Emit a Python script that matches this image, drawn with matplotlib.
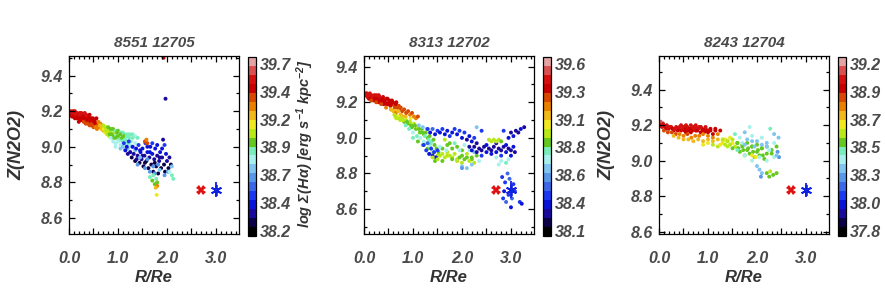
import matplotlib
matplotlib.use("Agg")
import matplotlib.pyplot as plt
import numpy as np
from matplotlib.colors import ListedColormap, Normalize
from matplotlib.ticker import MultipleLocator, FormatStrFormatter
import matplotlib.cm as cm

plt.rcParams['font.family'] = ['Liberation Sans', 'DejaVu Sans']
plt.rcParams['mathtext.fontset'] = 'custom'
plt.rcParams['mathtext.rm'] = 'Liberation Sans:bold:italic'
plt.rcParams['mathtext.it'] = 'Liberation Sans:bold:italic'
plt.rcParams['mathtext.bf'] = 'Liberation Sans:bold:italic'

# ---------------- data ----------------
titles = ["8551 12705", "8313 12702", "8243 12704"]

# panel 1 : 8551 12705  (r/Re, Z, log Sigma(Ha))
p1_r = [0.00,0.03,0.05,0.07,0.10,0.12,0.14,0.16,0.18,0.20,0.22,0.24,0.26,0.28,0.30,0.32,0.34,0.36,0.38,0.40,
        0.42,0.44,0.46,0.48,0.50,0.52,0.54,0.56,0.58,0.08,0.20,0.26,0.33,0.12,0.02,
        0.01,0.04,0.06,0.09,0.11,0.13,0.15,0.17,0.19,0.21,0.23,0.25,0.27,0.29,0.31,0.35,0.37,0.39,0.41,0.43,
        0.45,0.47,0.49,0.51,0.53,
        0.30,0.34,0.38,0.42,0.46,0.50,0.54,0.58,0.22,0.16,
        0.60,0.62,0.64,0.66,0.68,0.57,0.70,0.72,0.74,
        0.76,0.78,0.80,0.82,0.85,0.88,0.90,0.92,
        0.63,0.67,0.71,0.75,0.79,0.83,0.87,0.91,0.96,1.01,1.06,1.11,1.16,1.21,1.25,
        0.70,0.75,0.80,0.85,0.90,0.95,1.00,1.05,1.10,1.15,1.20,1.25,1.30,1.35,1.40,0.95,1.05,1.15,1.25,1.35,
        0.95,0.98,1.00,1.03,1.05,1.08,1.10,1.12,1.15,1.18,1.20,1.23,1.26,1.30,
        0.85,0.90,0.95,1.00,1.05,1.10,1.15,1.20,1.28,1.35,
        1.12,1.15,1.18,1.20,1.22,1.25,1.28,1.30,1.32,1.35,1.37,1.40,1.42,1.44,1.46,1.48,1.50,1.52,1.54,1.56,
        1.58,1.60,1.62,1.64,1.66,1.68,1.70,1.72,1.74,1.76,1.78,1.80,1.82,1.84,1.86,1.88,1.90,1.92,1.94,1.96,
        1.98,2.00,2.03,2.05,2.08,1.38,1.45,1.55,1.65,1.75,1.85,1.70,1.60,1.50,1.80,1.90,1.95,
        1.40,1.55,1.65,1.75,1.85,1.95,2.02,2.10,1.60,1.72,1.82,1.45,
        1.65,1.70,1.72,1.75,1.78,1.80,2.10,2.13,2.05,
        1.79,1.80,1.77,
        1.55,1.60,1.58,
        1.97,1.93]
p1_z = [9.20,9.19,9.20,9.18,9.19,9.20,9.17,9.19,9.18,9.16,9.19,9.17,9.18,9.15,9.17,9.19,9.16,9.14,9.17,9.15,
        9.18,9.13,9.16,9.14,9.12,9.15,9.13,9.16,9.12,9.17,9.14,9.15,9.14,9.16,9.18,
        9.19,9.18,9.17,9.20,9.17,9.18,9.19,9.16,9.17,9.18,9.15,9.19,9.16,9.17,9.15,9.18,9.15,9.16,9.14,9.16,
        9.15,9.13,9.16,9.14,9.14,
        9.14,9.13,9.13,9.12,9.12,9.11,9.11,9.11,9.15,9.16,
        9.14,9.11,9.13,9.10,9.12,9.10,9.09,9.11,9.08,
        9.10,9.07,9.09,9.06,9.08,9.10,9.06,9.08,
        9.12,9.11,9.10,9.09,9.08,9.07,9.07,9.05,9.06,9.05,9.04,9.03,9.03,9.03,9.01,
        9.12,9.11,9.11,9.10,9.10,9.09,9.09,9.08,9.08,9.07,9.07,9.07,9.07,9.06,9.05,9.00,8.99,8.98,8.97,8.98,
        9.05,9.08,9.06,9.04,9.07,9.05,9.03,9.06,9.04,9.06,9.02,9.05,9.03,9.05,
        9.05,9.03,9.02,9.03,9.01,9.00,9.01,8.99,9.00,9.02,
        9.02,8.98,9.00,8.96,9.03,8.97,8.94,9.00,8.96,8.92,8.99,8.95,9.01,8.91,8.97,8.93,8.99,8.89,8.95,9.02,
        8.92,8.97,8.88,8.94,9.00,8.90,8.96,8.86,8.93,8.99,8.89,8.95,8.85,8.92,8.97,8.88,8.94,9.04,8.90,8.86,
        8.96,8.92,8.88,8.94,8.90,8.93,8.98,8.91,8.97,8.91,8.94,9.02,9.00,8.95,9.01,8.99,9.01,
        8.90,8.88,8.86,8.85,8.87,8.84,8.86,8.89,8.93,8.89,8.90,8.94,
        8.83,8.81,8.84,8.79,8.82,8.80,8.84,8.82,8.86,
        8.73,8.78,8.77,
        9.03,9.02,9.04,
        9.27,9.50]
p1_c = [39.58,39.55,39.57,39.52,39.55,39.58,39.50,39.53,39.55,39.48,39.55,39.50,39.52,39.46,39.50,39.55,39.48,39.45,39.52,39.46,
        39.50,39.44,39.48,39.45,39.42,39.46,39.44,39.47,39.40,39.50,39.47,39.46,39.45,39.50,39.55,
        39.55,39.52,39.50,39.58,39.50,39.53,39.56,39.48,39.50,39.53,39.46,39.55,39.48,39.50,39.46,39.52,39.45,39.48,39.44,39.48,
        39.46,39.42,39.47,39.44,39.43,
        39.42,39.40,39.40,39.38,39.36,39.36,39.34,39.32,39.44,39.46,
        39.33,39.28,39.30,39.25,39.27,39.32,39.20,39.22,39.18,
        39.12,39.08,39.10,39.05,39.07,39.10,39.02,39.05,
        39.25,39.20,39.12,39.08,39.04,39.00,38.98,38.95,38.93,38.90,38.88,38.86,38.84,38.83,38.80,
        39.10,39.05,39.00,38.98,38.96,38.94,38.95,38.92,38.93,38.90,38.92,38.88,38.90,38.86,38.88,38.80,38.78,38.76,38.75,38.74,
        38.98,39.00,38.96,38.94,38.97,38.95,38.92,38.95,38.93,38.94,38.91,38.93,38.92,38.94,
        38.84,38.82,38.80,38.82,38.79,38.78,38.80,38.77,38.78,38.80,
        38.50,38.40,38.46,38.34,38.52,38.38,38.30,38.44,38.36,38.28,38.42,38.34,38.48,38.26,38.40,38.32,38.46,38.27,38.36,38.50,
        38.30,38.42,38.25,38.34,38.46,38.28,38.40,38.26,38.32,38.44,38.27,38.38,38.25,38.32,38.44,38.28,38.34,38.32,38.30,38.26,
        38.40,38.32,38.28,38.38,38.30,38.32,38.44,38.30,38.40,38.30,38.36,38.48,38.44,38.38,38.46,38.42,38.48,
        38.68,38.65,38.70,38.66,38.72,38.64,38.70,38.75,38.68,38.66,38.70,38.72,
        38.92,38.95,38.90,38.97,38.93,38.95,38.88,38.92,38.85,
        39.18,39.28,39.22,
        39.35,39.38,39.32,
        38.32,39.50]

# panel 2 : 8313 12702
p2_r = [0.00,0.03,0.06,0.09,0.12,0.15,0.18,0.21,0.24,0.27,0.30,0.33,0.36,0.39,0.42,0.45,0.48,0.51,0.54,0.57,
        0.60,0.63,0.66,0.69,0.72,0.10,0.20,0.30,0.40,
        0.01,0.04,0.07,0.11,0.14,0.17,0.22,0.25,0.28,0.32,0.35,0.38,0.43,0.46,0.49,0.52,0.56,0.59,0.62,0.65,
        0.68,0.71,
        0.15,0.25,0.35,0.45,0.55,0.65,0.75,0.85,0.95,
        0.75,0.78,0.82,0.86,0.90,0.94,0.98,1.02,1.06,1.10,
        0.55,0.60,0.65,0.70,0.75,0.80,
        0.62,0.66,0.70,0.74,0.78,0.82,0.86,0.90,0.94,0.98,1.02,1.06,1.10,1.14,1.18,1.22,1.26,1.30,1.34,1.38,1.42,
        0.64,0.72,0.80,0.88,0.96,1.04,1.12,1.20,1.24,1.32,1.36,1.44,1.48,1.52,
        1.00,1.10,1.20,1.30,1.40,1.50,1.60,1.70,1.80,1.90,2.00,2.10,2.20,
        0.85,0.92,1.00,1.08,1.15,1.22,1.28,1.35,1.40,1.12,1.20,1.28,
        1.22,1.27,1.30,1.33,1.37,1.40,1.43,1.47,1.50,
        1.40,1.45,1.50,1.55,1.60,1.65,1.70,1.75,1.80,1.85,1.90,1.95,2.00,2.05,2.10,2.15,2.20,2.25,2.30,
        1.60,1.70,1.80,1.90,2.00,1.75,1.65,
        1.55,1.68,1.85,1.95,2.05,2.15,2.25,2.00,2.10,2.20,2.35,
        1.30,1.35,1.40,1.45,1.50,1.55,1.60,1.65,1.70,1.75,1.80,1.85,1.90,1.95,2.00,2.05,2.10,2.15,2.20,2.25,2.30,
        2.15,2.20,2.25,2.30,2.35,2.40,2.45,2.50,2.55,2.60,2.65,2.70,2.75,2.80,2.85,2.90,2.95,3.00,3.05,3.08,
        2.40,2.60,2.80,3.00,2.50,2.70,2.90,
        2.55,2.60,2.65,2.70,2.75,2.80,
        2.70,2.80,2.90,2.95,2.75,
        2.95,3.00,3.05,3.10,3.15,3.20,3.27,2.85,
        2.82,2.88,2.93,2.86,2.95,2.90,3.02,3.05,3.08,2.97,3.00,3.18,3.22,2.84,
        2.40,2.30,2.00]
p2_z = [9.25,9.24,9.25,9.23,9.25,9.24,9.22,9.24,9.23,9.21,9.24,9.22,9.20,9.23,9.21,9.19,9.22,9.20,9.18,9.21,
        9.19,9.17,9.20,9.18,9.16,9.22,9.21,9.20,9.19,
        9.24,9.25,9.23,9.24,9.22,9.23,9.22,9.24,9.22,9.23,9.21,9.22,9.20,9.22,9.19,9.21,9.19,9.20,9.18,9.19,
        9.17,9.18,
        9.21,9.20,9.19,9.17,9.16,9.15,9.13,9.12,9.11,
        9.17,9.15,9.16,9.14,9.15,9.13,9.14,9.12,9.11,9.12,
        9.16,9.15,9.14,9.15,9.13,9.12,
        9.13,9.11,9.12,9.10,9.11,9.09,9.10,9.08,9.09,9.06,9.08,9.05,9.06,9.03,9.05,9.02,9.03,9.00,9.01,8.98,8.99,
        9.12,9.11,9.10,9.09,9.07,9.07,9.05,9.03,9.01,8.99,8.97,8.96,8.94,8.92,
        9.00,8.98,8.96,8.94,8.92,8.90,8.91,8.90,8.89,8.88,8.90,8.89,8.88,
        9.07,9.05,9.03,9.01,9.00,8.98,8.97,8.95,8.93,9.07,9.06,9.05,
        8.96,8.93,8.97,8.91,8.94,8.90,8.92,8.89,8.93,
        8.89,8.87,8.88,8.90,8.87,8.89,8.92,8.90,8.88,8.91,8.87,8.89,8.86,8.88,8.91,8.87,8.89,8.86,8.90,
        8.94,8.96,8.94,8.95,8.93,8.97,8.99,
        8.95,8.93,8.97,8.93,8.96,8.93,8.92,8.84,8.83,8.85,8.87,
        9.05,9.03,9.05,9.02,9.04,9.03,9.05,9.02,9.04,9.01,9.03,9.05,9.02,9.04,9.00,9.03,8.99,9.01,8.98,9.00,8.97,
        8.95,8.93,8.95,8.92,8.94,8.93,8.95,8.92,8.94,8.93,8.95,8.92,8.94,8.93,8.95,8.92,8.94,8.93,8.95,8.92,
        8.90,8.91,8.90,8.90,8.96,8.97,8.96,
        8.99,8.98,8.99,8.98,8.99,8.98,
        8.89,8.87,8.86,8.88,8.85,
        9.00,9.03,9.01,9.04,9.03,9.05,9.06,9.04,
        8.78,8.75,8.80,8.70,8.68,8.64,8.66,8.74,8.70,8.77,8.61,8.64,8.63,8.66,
        9.04,9.06,8.83]
p2_c = [39.48,39.45,39.47,39.42,39.46,39.44,39.40,39.45,39.42,39.38,39.44,39.40,39.37,39.42,39.38,39.35,39.40,39.37,39.33,39.38,
        39.35,39.32,39.36,39.33,39.30,39.40,39.38,39.36,39.35,
        39.46,39.48,39.43,39.45,39.41,39.43,39.40,39.44,39.40,39.42,39.38,39.40,39.36,39.40,39.34,39.38,39.34,39.36,39.32,39.34,
        39.30,39.32,
        39.30,39.28,39.25,39.20,39.18,39.15,39.12,39.10,39.08,
        39.30,39.26,39.32,39.25,39.30,39.24,39.28,39.22,39.20,39.25,
        39.15,39.12,39.18,39.10,39.14,39.12,
        39.00,38.96,39.02,38.94,38.98,38.92,38.96,38.90,38.94,38.92,38.95,38.90,38.93,38.88,38.92,38.86,38.90,38.85,38.88,38.84,38.86,
        38.98,38.95,38.93,38.90,38.90,38.88,38.86,38.85,38.82,38.83,38.80,38.85,38.90,38.92,
        38.80,38.85,38.90,38.92,38.95,38.97,38.96,38.94,38.93,38.95,38.92,38.90,38.88,
        38.80,38.78,38.75,38.78,38.74,38.76,38.72,38.75,38.70,38.68,38.66,38.62,
        38.44,38.38,38.46,38.36,38.42,38.34,38.40,38.34,38.44,
        38.96,38.92,38.98,38.95,38.90,38.97,38.93,38.96,38.90,38.94,38.98,38.92,38.95,38.90,38.94,38.97,38.92,38.95,38.90,
        38.88,38.85,38.90,38.86,38.88,38.92,38.94,
        38.75,38.72,38.78,38.70,38.74,38.72,38.68,38.65,38.62,38.66,38.72,
        38.42,38.36,38.46,38.34,38.42,38.30,38.44,38.36,38.30,38.40,38.34,38.44,38.30,38.38,38.32,38.40,38.28,38.36,38.30,38.38,38.28,
        38.26,38.30,38.24,38.28,38.22,38.26,38.24,38.30,38.22,38.28,38.25,38.32,38.23,38.27,38.24,38.30,38.22,38.26,38.32,38.24,
        38.38,38.34,38.40,38.36,38.32,38.28,38.30,
        38.95,38.98,38.94,38.97,38.95,38.92,
        38.75,38.72,38.78,38.70,38.74,
        38.30,38.26,38.32,38.28,38.24,38.30,38.26,38.40,
        38.44,38.40,38.48,38.36,38.42,38.46,38.50,38.38,38.42,38.46,38.36,38.40,38.34,38.44,
        38.40,38.62,38.60]

# panel 3 : 8243 12704
p3_r = [0.00,0.04,0.08,0.12,0.16,0.20,0.25,0.30,0.35,0.40,0.45,0.50,0.55,0.60,0.65,0.70,0.75,0.80,0.85,0.90,
        0.95,1.00,1.05,1.10,1.15,0.55,0.65,0.75,0.85,0.03,
        0.02,0.06,0.10,0.14,0.18,0.22,0.28,0.32,0.38,0.42,0.48,0.52,0.58,0.62,0.68,0.72,0.78,0.82,0.88,0.92,
        0.98,1.02,
        0.45,0.55,0.65,0.75,0.85,0.95,1.05,1.15,1.25,
        0.10,0.18,0.26,0.34,0.42,0.50,0.58,0.66,0.74,0.82,0.90,1.00,1.10,1.20,
        0.30,0.40,0.50,0.60,0.70,0.80,0.90,1.00,1.10,1.20,1.30,
        0.90,1.00,1.10,1.20,1.30,1.40,1.50,1.60,1.35,1.45,
        1.25,1.35,1.45,1.55,1.62,1.72,1.82,1.92,2.02,2.12,
        1.30,1.40,1.50,1.60,1.70,1.80,1.90,2.00,2.10,2.20,2.30,
        1.40,1.50,1.60,1.70,1.80,1.90,2.00,2.10,2.20,1.65,1.75,1.85,1.95,2.05,2.15,2.30,2.40,
        1.60,1.75,1.90,2.05,2.20,2.35,
        1.55,1.65,1.75,1.85,1.80,1.90,2.00,2.10,2.20,2.27,2.35,2.44,1.70,1.95,2.25,2.35,2.00,2.05,2.10,2.08,
        1.75,1.90,2.10,2.42,2.45,2.40,2.20,
        2.20,2.27,2.33,2.40,2.25,
        1.90,1.97]
p3_z = [9.21,9.20,9.21,9.19,9.20,9.18,9.19,9.17,9.19,9.18,9.17,9.19,9.18,9.17,9.18,9.19,9.17,9.18,9.16,9.17,
        9.18,9.16,9.17,9.15,9.17,9.16,9.16,9.19,9.19,9.22,
        9.20,9.19,9.20,9.18,9.19,9.19,9.18,9.18,9.17,9.19,9.18,9.17,9.19,9.18,9.17,9.18,9.17,9.19,9.18,9.16,
        9.17,9.17,
        9.20,9.20,9.20,9.20,9.19,9.19,9.18,9.18,9.17,
        9.17,9.16,9.16,9.15,9.15,9.14,9.15,9.13,9.14,9.14,9.15,9.14,9.13,9.15,
        9.14,9.13,9.12,9.12,9.11,9.12,9.11,9.12,9.11,9.12,9.11,
        9.09,9.10,9.09,9.08,9.10,9.08,9.10,9.07,9.12,9.13,
        9.09,9.09,9.09,9.08,9.07,9.06,9.07,9.05,9.06,9.03,
        9.12,9.11,9.12,9.10,9.09,9.10,9.08,9.09,9.07,9.08,9.04,
        9.11,9.07,9.10,9.08,9.06,9.08,9.05,9.07,9.04,9.05,9.03,9.04,9.02,9.03,9.01,9.06,9.08,
        9.06,9.03,9.00,9.02,9.00,9.02,
        9.15,9.13,9.16,9.19,9.12,9.14,9.11,9.13,9.10,9.18,9.15,9.13,9.10,9.08,9.06,9.10,8.97,8.95,8.93,8.91,
        9.09,9.11,9.09,9.05,9.02,9.03,9.08,
        8.93,8.94,8.92,8.93,8.91,
        9.03,9.02]
p3_c = [39.10,39.06,39.08,39.04,39.07,39.02,39.05,39.00,39.06,39.03,39.00,39.05,39.02,38.99,39.03,39.06,39.00,39.03,38.97,39.00,
        39.02,38.96,39.00,38.95,38.98,38.97,38.96,39.05,39.04,39.10,
        39.06,39.04,39.07,39.02,39.05,39.04,39.02,39.03,39.00,39.05,39.03,39.00,39.05,39.02,39.00,39.03,39.00,39.04,39.02,38.97,
        38.99,38.98,
        39.08,39.08,39.06,39.08,39.05,39.04,39.02,39.00,38.96,
        38.92,38.90,38.88,38.90,38.86,38.85,38.88,38.84,38.86,38.85,38.87,38.84,38.82,38.86,
        38.78,38.76,38.75,38.78,38.74,38.77,38.75,38.76,38.73,38.74,38.72,
        38.68,38.66,38.64,38.65,38.67,38.63,38.66,38.62,38.68,38.66,
        38.66,38.62,38.60,38.58,38.56,38.55,38.54,38.55,38.53,38.54,
        38.60,38.58,38.62,38.57,38.55,38.53,38.55,38.52,38.50,38.50,38.52,
        38.58,38.55,38.57,38.54,38.56,38.53,38.55,38.52,38.54,38.56,38.52,38.55,38.53,38.56,38.54,38.57,38.55,
        38.44,38.40,38.38,38.42,38.40,38.38,
        38.44,38.36,38.30,38.40,38.32,38.42,38.28,38.36,38.32,38.44,38.34,38.28,38.40,38.33,38.36,38.42,38.33,38.30,38.28,38.27,
        38.30,38.28,38.30,38.26,38.25,38.28,38.30,
        38.56,38.58,38.55,38.57,38.54,
        38.72,38.70]

# summary points (red X, blue asterisk with error)
sum_red_r = [2.70, 2.70, 2.70]
sum_red_z = [8.76, 8.71, 8.835]
sum_blue_r = [3.00, 3.00, 3.00]
sum_blue_z = [8.76, 8.71, 8.835]
sum_blue_err = [0.04, 0.045, 0.037]

# colour ranges and colourbar labels
c_ranges = [(38.15, 39.75), (38.05, 39.65), (37.75, 39.25)]
cbar_labels = [["38.2", "38.4", "38.7", "38.9", "39.2", "39.4", "39.7"],
               ["38.1", "38.4", "38.6", "38.8", "39.1", "39.3", "39.6"],
               ["37.8", "38.0", "38.3", "38.5", "38.7", "38.9", "39.2"]]
y_ranges = [(8.51, 9.51), (8.46, 9.46), (8.587, 9.59)]
x_range = (0.0, 3.47)
xtick_labels = ["0.0", "1.0", "2.0", "3.0"]

# ---------------- style ----------------
cmap_colors = ["#000000", "#0c0048", "#1a0a9c", "#0a14d8", "#1c38f0", "#3c68e8", "#5898e8", "#80c4f0",
               "#a8f0ec", "#78eebc", "#64c820", "#b8e818", "#f0e820", "#f0b818", "#e88000", "#d84800",
               "#c80000", "#d41010", "#d85050", "#e4a4a4"]
cmap = ListedColormap(cmap_colors)

TXT = "#4a4a4a"
W, H = 885, 293
fig = plt.figure(figsize=(W / 100, H / 100), dpi=100)

ax_left = [69, 364, 659]
ax_w, ax_top, ax_bot = 170, 56, 234
cb_left = [248, 543, 838]
cb_w, cb_top, cb_bot = 8, 57, 236

panels = [(p1_r, p1_z, p1_c), (p2_r, p2_z, p2_c), (p3_r, p3_z, p3_c)]
fp = dict(family='Liberation Sans', weight='bold', style='italic')

for i in range(3):
    ax = fig.add_axes([ax_left[i] / W, (H - ax_bot) / H, ax_w / W, (ax_bot - ax_top) / H])
    r, z, c = panels[i]
    vmin, vmax = c_ranges[i]
    norm = Normalize(vmin, vmax)
    ax.scatter(r, z, c=c, cmap=cmap, norm=norm, s=8, marker='o', linewidths=0)
    ax.plot(sum_red_r[i], sum_red_z[i], marker='X', color='#e01010', ms=7, mew=0, linestyle='none')
    ax.errorbar(sum_blue_r[i], sum_blue_z[i], yerr=sum_blue_err[i], fmt='none', ecolor='#1020e0',
                elinewidth=1.3, capsize=0)
    ax.plot(sum_blue_r[i], sum_blue_z[i], marker=(6, 2, 0), color='#1020e0', ms=8, mew=1.3, linestyle='none')
    ax.set_xlim(*x_range)
    ax.set_ylim(*y_ranges[i])
    ax.xaxis.set_minor_locator(MultipleLocator(0.1))
    ax.yaxis.set_major_locator(MultipleLocator(0.2))
    ax.yaxis.set_minor_locator(MultipleLocator(0.1))
    ax.yaxis.set_major_formatter(FormatStrFormatter('%.1f'))
    ax.tick_params(which='both', direction='in', top=True, right=True, width=0.9, color='black')
    ax.tick_params(which='major', length=4.5)
    ax.tick_params(which='minor', length=2.5)
    ax.tick_params(axis='x', which='major', pad=12)
    ax.tick_params(axis='y', which='major', pad=4.5)
    ax.set_xticks([0.0, 0.5, 1.0, 1.5, 2.0, 2.5, 3.0])
    ax.set_xticklabels([xtick_labels[0], "", xtick_labels[1], "", xtick_labels[2], "", xtick_labels[3]])
    for lab in ax.get_xticklabels() + ax.get_yticklabels():
        lab.set_fontproperties(fp)
        lab.set_fontsize(11.5)
        lab.set_color(TXT)
    for sp in ax.spines.values():
        sp.set_linewidth(0.9)

    cx = (ax_left[i] + ax_w / 2) / W
    fig.text(cx, 1 - 43 / H, titles[i], ha='center', va='center', fontsize=11, color=TXT, **fp)
    fig.text(cx, 1 - 278 / H, "R/Re", ha='center', va='center', fontsize=12, color='#333333', **fp)

    cax = fig.add_axes([cb_left[i] / W, (H - cb_bot) / H, cb_w / W, (cb_bot - cb_top) / H])
    sm = cm.ScalarMappable(norm=norm, cmap=cmap)
    cb = fig.colorbar(sm, cax=cax)
    cb.outline.set_linewidth(0.9)
    fr = np.linspace(0.028, 0.961, 7)
    cb.set_ticks(list(vmin + fr * (vmax - vmin)))
    cb.set_ticklabels(cbar_labels[i])
    cax.tick_params(length=0, pad=3)
    for lab in cax.get_yticklabels():
        lab.set_fontproperties(fp)
        lab.set_fontsize(11.5)
        lab.set_color(TXT)

# y labels
for x in [17, 607]:
    fig.text(x / W, 1 - 145 / H, "Z(N2O2)", rotation=90, ha='center', va='center', fontsize=13,
             color='#333333', **fp)
fig.text(305 / W, 1 - 144 / H, r"log $\Sigma$(H$\alpha$) [erg s$^{-1}$ kpc$^{-2}$]", rotation=90,
         ha='center', va='center', fontsize=10.5, color='#333333', **fp)

fig.savefig("out.png", dpi=100)
